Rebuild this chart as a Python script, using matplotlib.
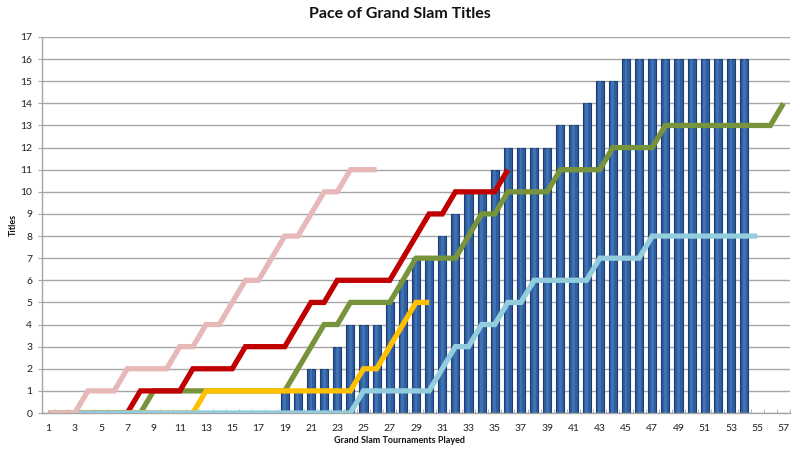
import matplotlib
matplotlib.use("Agg")
import matplotlib.pyplot as plt
import numpy as np

plt.rcParams['font.family'] = ['Lato', 'DejaVu Sans']

# Data
tournaments = list(range(1, 58))
bar_values = [0]*18 + [1, 1, 2, 2, 3, 4, 4, 4, 5, 6, 7, 7, 8, 9, 10, 10, 11,
                       12, 12, 12, 12, 13, 13, 14, 15, 15] + [16]*10   # 1..54
pink = [0, 0, 0, 1, 1, 1, 2, 2, 2, 2, 3, 3, 4, 4, 5, 6, 6, 7, 8, 8, 9, 10, 10,
        11, 11, 11]                                                       # 1..26
red = [0]*7 + [1, 1, 1, 1, 2, 2, 2, 2, 3, 3, 3, 3, 4, 5, 5, 6, 6, 6, 6, 6, 7, 8,
               9, 9, 10, 10, 10, 10, 11]                                  # 1..36
green = [0]*8 + [1]*11 + [2, 3, 4, 4, 5, 5, 5, 5, 6, 7, 7, 7, 7, 8, 9, 9,
                          10, 10, 10, 10, 11, 11, 11, 11, 12, 12, 12, 12] + [13]*9 + [14]  # 1..57
yellow = [0]*12 + [1]*12 + [2, 2, 3, 4, 5, 5]                             # 1..30
lightblue = [0]*24 + [1]*6 + [2, 3, 3, 4, 4, 5, 5, 6, 6, 6, 6, 6, 7, 7, 7, 7] + [8]*9  # 1..55

x_ticks = list(range(1, 58, 2))
y_ticks = list(range(0, 18))

fig = plt.figure(figsize=(8, 4.5), dpi=100)
ax = fig.add_axes([0.0525, 0.0822, 0.935, 0.8356])

# grid
for y in y_ticks:
    ax.axhline(y, color='#a6a6a6', lw=1.0, zorder=1)

xb = np.arange(1, len(bar_values) + 1)
ax.bar(xb, bar_values, width=0.62, color='#2f5e9f', edgecolor='#1b3c74',
       linewidth=0.8, zorder=2)
# highlight for cylinder look
ax.bar(xb, bar_values, width=0.22, color='#4f82c4', linewidth=0, zorder=2.1, alpha=0.55)

def line(vals, color, z):
    xs = np.arange(1, len(vals) + 1)
    ax.plot(xs, vals, color=color, lw=3.8, zorder=z, solid_joinstyle='miter',
            solid_capstyle='butt')

line(green, '#77933c', 3)
line(red, '#c00000', 4)
line(yellow, '#ffc000', 5)
line(lightblue, '#93cddd', 6)
line(pink, '#e6b9b8', 7)

ax.set_xlim(0.5, 57.5)
ax.set_ylim(0, 17)
ax.set_xticks(x_ticks)
ax.set_xticklabels([str(t) for t in x_ticks], fontsize=7.5, color='#222222')
ax.set_xticks(np.arange(0.5, 58, 1), minor=True)
ax.tick_params(axis='x', which='major', length=0, pad=8)
ax.tick_params(axis='x', which='minor', length=3, color='#a6a6a6', direction='in')
ax.set_yticks(y_ticks)
ax.set_yticklabels([str(t) for t in y_ticks], fontsize=7.5, color='#222222')
ax.tick_params(axis='y', length=3, color='#a6a6a6', pad=4)

for s in ['top', 'right']:
    ax.spines[s].set_visible(False)
for s in ['left', 'bottom']:
    ax.spines[s].set_color('#a6a6a6')
    ax.spines[s].set_linewidth(1.0)

fig.text(0.5, 0.968, 'Pace of Grand Slam Titles', ha='center', va='center',
         fontsize=11.5, fontweight='bold', color='#111111')
fig.text(0.5, 0.022, 'Grand Slam Tournaments Played', ha='center', va='center',
         fontsize=6.5, fontweight='bold', color='#111111')
fig.text(0.017, 0.5, 'Titles', ha='center', va='center', rotation=90,
         fontsize=6.5, fontweight='bold', color='#111111')

fig.savefig('out.png', dpi=100)
